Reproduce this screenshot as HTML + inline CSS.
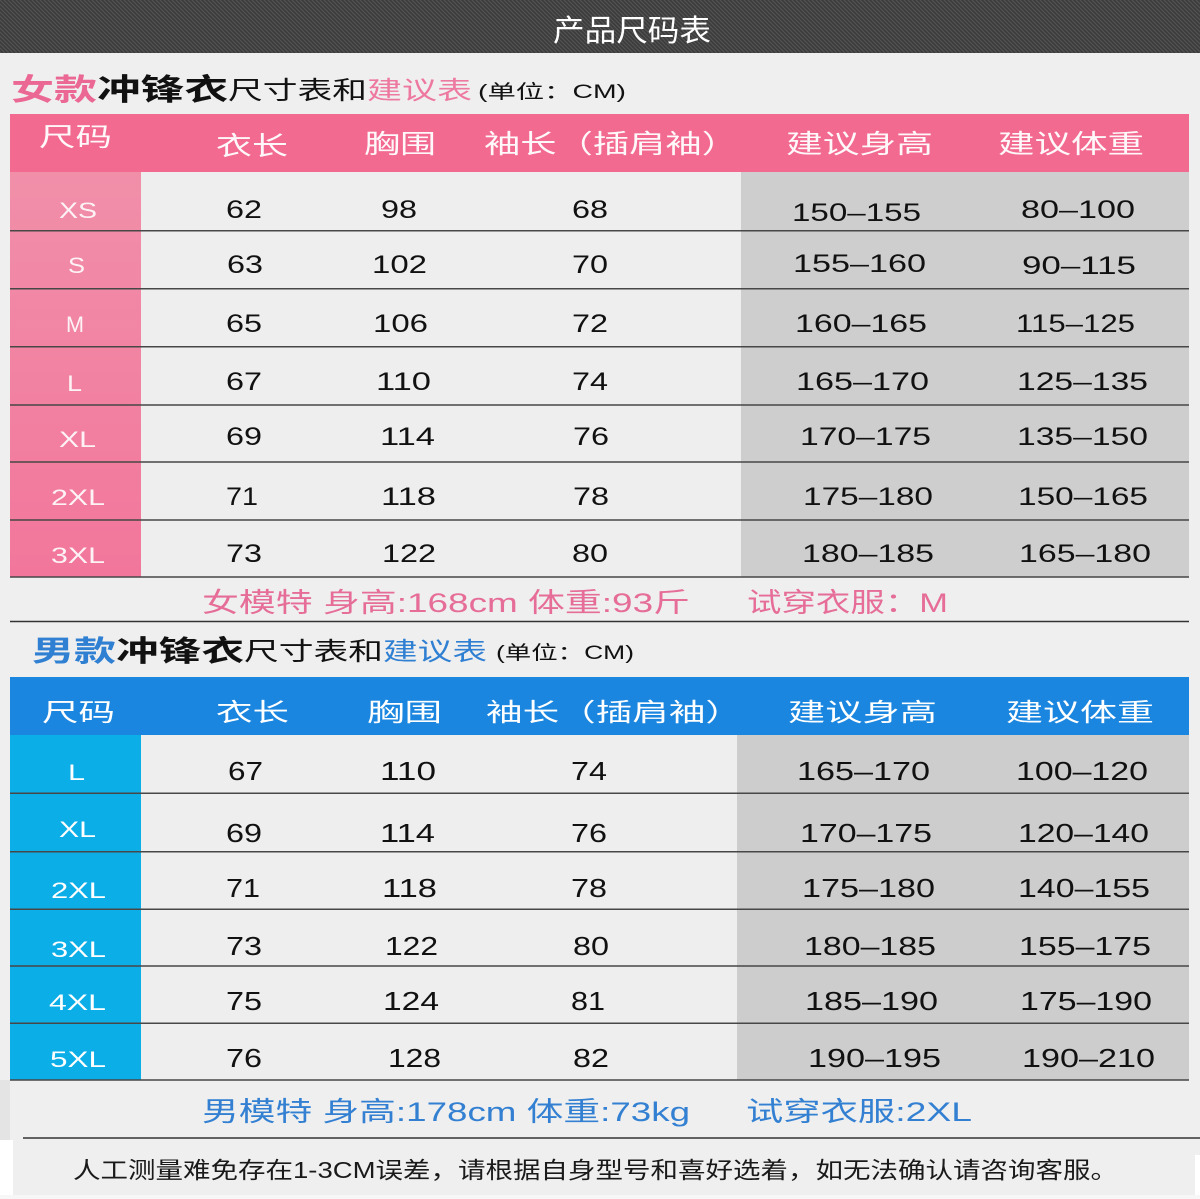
<!DOCTYPE html>
<html>
<head>
<meta charset="utf-8">
<style>
html,body{margin:0;padding:0;background:#efefef;}
svg{display:block;}
text{font-family:"Liberation Sans","Noto Sans CJK SC",sans-serif;}
</style>
</head>
<body>
<svg width="1200" height="1199" viewBox="0 0 1200 1199" xmlns="http://www.w3.org/2000/svg">
<defs>
<pattern id="stripe" width="4" height="4" patternUnits="userSpaceOnUse">
<rect width="4" height="4" fill="#3b3b3b"/>
<path d="M-1,-1 L5,5 M-1,3 L1,5 M3,-1 L5,1" stroke="#525252" stroke-width="1.2"/>
</pattern>
<linearGradient id="pinkcol" x1="0" y1="0" x2="0" y2="1">
<stop offset="0" stop-color="#f18fa9"/>
<stop offset="1" stop-color="#f2769b"/>
</linearGradient>
</defs>

<rect x="0" y="0" width="1200" height="1199" fill="#efefef"/>
<rect x="0" y="0" width="1200" height="53" fill="url(#stripe)"/>
<text x="553" y="41" font-size="30" fill="#ffffff" textLength="158" lengthAdjust="spacingAndGlyphs">产品尺码表</text>

<!-- Female title -->
<text x="11" y="100" font-size="30" font-weight="bold" fill="#ea6893" textLength="86" lengthAdjust="spacingAndGlyphs">女款</text>
<text x="97" y="100" font-size="30" font-weight="bold" fill="#111" textLength="131" lengthAdjust="spacingAndGlyphs">冲锋衣</text>
<text x="228" y="99" font-size="25" fill="#111" textLength="139" lengthAdjust="spacingAndGlyphs">尺寸表和</text>
<text x="367" y="99" font-size="25" fill="#ee79a0" textLength="105" lengthAdjust="spacingAndGlyphs">建议表</text>
<text x="478" y="98" font-size="19" fill="#111" textLength="148" lengthAdjust="spacingAndGlyphs">(单位：CM)</text>

<!-- Female table -->
<rect x="10" y="114" width="1179" height="58" fill="#f26a90"/>
<rect x="10" y="172" width="131" height="405" fill="url(#pinkcol)"/>
<rect x="141" y="172" width="600" height="405" fill="#eeeeee"/>
<rect x="741" y="172" width="448" height="405" fill="#cecece"/>
<g stroke="#474747" stroke-width="1.5">
<line x1="10" y1="230.7" x2="1189" y2="230.7"/>
<line x1="10" y1="288.7" x2="1189" y2="288.7"/>
<line x1="10" y1="346.7" x2="1189" y2="346.7"/>
<line x1="10" y1="405" x2="1189" y2="405"/>
<line x1="10" y1="462" x2="1189" y2="462"/>
<line x1="10" y1="520" x2="1189" y2="520"/>
<line x1="10" y1="577" x2="1189" y2="577"/>
</g>
<g font-size="26" fill="#fff8fa">
<text x="39" y="146" textLength="73" lengthAdjust="spacingAndGlyphs">尺码</text>
<text x="216" y="155" textLength="72" lengthAdjust="spacingAndGlyphs">衣长</text>
<text x="364" y="153" textLength="72" lengthAdjust="spacingAndGlyphs">胸围</text>
<text x="484" y="153" textLength="254" lengthAdjust="spacingAndGlyphs">袖长（插肩袖）</text>
<text x="786" y="153" textLength="147" lengthAdjust="spacingAndGlyphs">建议身高</text>
<text x="998" y="153" textLength="146" lengthAdjust="spacingAndGlyphs">建议体重</text>
</g>
<g font-size="22" fill="#fdf3f6">
<text x="59" y="218" textLength="38" lengthAdjust="spacingAndGlyphs">XS</text>
<text x="68" y="273" textLength="17" lengthAdjust="spacingAndGlyphs">S</text>
<text x="66" y="332" textLength="18" lengthAdjust="spacingAndGlyphs">M</text>
<text x="67" y="391" textLength="15" lengthAdjust="spacingAndGlyphs">L</text>
<text x="59" y="447" textLength="37" lengthAdjust="spacingAndGlyphs">XL</text>
<text x="51" y="505" textLength="54" lengthAdjust="spacingAndGlyphs">2XL</text>
<text x="51" y="563" textLength="54" lengthAdjust="spacingAndGlyphs">3XL</text>
</g>
<g font-size="25" fill="#111">
<text x="226" y="218" textLength="36" lengthAdjust="spacingAndGlyphs">62</text>
<text x="381" y="218" textLength="36" lengthAdjust="spacingAndGlyphs">98</text>
<text x="572" y="218" textLength="36" lengthAdjust="spacingAndGlyphs">68</text>
<text x="792" y="221" textLength="129" lengthAdjust="spacingAndGlyphs">150–155</text>
<text x="1021" y="218" textLength="114" lengthAdjust="spacingAndGlyphs">80–100</text>

<text x="227" y="273" textLength="36" lengthAdjust="spacingAndGlyphs">63</text>
<text x="372" y="273" textLength="55" lengthAdjust="spacingAndGlyphs">102</text>
<text x="572" y="273" textLength="36" lengthAdjust="spacingAndGlyphs">70</text>
<text x="793" y="272" textLength="133" lengthAdjust="spacingAndGlyphs">155–160</text>
<text x="1022" y="274" textLength="114" lengthAdjust="spacingAndGlyphs">90–115</text>

<text x="226" y="332" textLength="36" lengthAdjust="spacingAndGlyphs">65</text>
<text x="373" y="332" textLength="55" lengthAdjust="spacingAndGlyphs">106</text>
<text x="572" y="332" textLength="36" lengthAdjust="spacingAndGlyphs">72</text>
<text x="795" y="332" textLength="132" lengthAdjust="spacingAndGlyphs">160–165</text>
<text x="1016" y="332" textLength="119" lengthAdjust="spacingAndGlyphs">115–125</text>

<text x="226" y="390" textLength="36" lengthAdjust="spacingAndGlyphs">67</text>
<text x="376" y="390" textLength="55" lengthAdjust="spacingAndGlyphs">110</text>
<text x="572" y="390" textLength="36" lengthAdjust="spacingAndGlyphs">74</text>
<text x="796" y="390" textLength="133" lengthAdjust="spacingAndGlyphs">165–170</text>
<text x="1017" y="390" textLength="131" lengthAdjust="spacingAndGlyphs">125–135</text>

<text x="226" y="445" textLength="36" lengthAdjust="spacingAndGlyphs">69</text>
<text x="380" y="445" textLength="55" lengthAdjust="spacingAndGlyphs">114</text>
<text x="573" y="445" textLength="36" lengthAdjust="spacingAndGlyphs">76</text>
<text x="800" y="445" textLength="131" lengthAdjust="spacingAndGlyphs">170–175</text>
<text x="1017" y="445" textLength="131" lengthAdjust="spacingAndGlyphs">135–150</text>

<text x="226" y="505" textLength="32" lengthAdjust="spacingAndGlyphs">71</text>
<text x="381" y="505" textLength="55" lengthAdjust="spacingAndGlyphs">118</text>
<text x="573" y="505" textLength="36" lengthAdjust="spacingAndGlyphs">78</text>
<text x="803" y="505" textLength="130" lengthAdjust="spacingAndGlyphs">175–180</text>
<text x="1018" y="505" textLength="130" lengthAdjust="spacingAndGlyphs">150–165</text>

<text x="226" y="562" textLength="36" lengthAdjust="spacingAndGlyphs">73</text>
<text x="382" y="562" textLength="54" lengthAdjust="spacingAndGlyphs">122</text>
<text x="572" y="562" textLength="36" lengthAdjust="spacingAndGlyphs">80</text>
<text x="802" y="562" textLength="132" lengthAdjust="spacingAndGlyphs">180–185</text>
<text x="1019" y="562" textLength="132" lengthAdjust="spacingAndGlyphs">165–180</text>
</g>

<!-- Female model line -->
<text x="202" y="612" font-size="27" fill="#e66d98" textLength="488" lengthAdjust="spacingAndGlyphs">女模特 身高:168cm 体重:93斤</text>
<text x="747" y="612" font-size="27" fill="#e66d98" textLength="201" lengthAdjust="spacingAndGlyphs">试穿衣服：M</text>
<line x1="10" y1="621.5" x2="1189" y2="621.5" stroke="#333" stroke-width="1.5"/>

<!-- Male title -->
<text x="32" y="661" font-size="29" font-weight="bold" fill="#2f7fd2" textLength="84" lengthAdjust="spacingAndGlyphs">男款</text>
<text x="116" y="661" font-size="29" font-weight="bold" fill="#111" textLength="128" lengthAdjust="spacingAndGlyphs">冲锋衣</text>
<text x="244" y="660" font-size="25" fill="#111" textLength="139" lengthAdjust="spacingAndGlyphs">尺寸表和</text>
<text x="383" y="660" font-size="25" fill="#2f7fd2" textLength="104" lengthAdjust="spacingAndGlyphs">建议表</text>
<text x="496" y="659" font-size="19" fill="#111" textLength="138" lengthAdjust="spacingAndGlyphs">(单位：CM)</text>

<!-- Male table -->
<rect x="10" y="677" width="1179" height="58" fill="#1a86df"/>
<rect x="10" y="735" width="131" height="345" fill="#0caee8"/>
<rect x="141" y="735" width="596" height="345" fill="#eeeeee"/>
<rect x="737" y="735" width="452" height="345" fill="#cdcdcd"/>
<g stroke="#474747" stroke-width="1.5">
<line x1="10" y1="793.3" x2="1189" y2="793.3"/>
<line x1="10" y1="851.7" x2="1189" y2="851.7"/>
<line x1="10" y1="909.3" x2="1189" y2="909.3"/>
<line x1="10" y1="966" x2="1189" y2="966"/>
<line x1="10" y1="1023.3" x2="1189" y2="1023.3"/>
<line x1="10" y1="1080" x2="1189" y2="1080"/>
</g>
<g font-size="25" fill="#ffffff">
<text x="42" y="721" textLength="73" lengthAdjust="spacingAndGlyphs">尺码</text>
<text x="216" y="721" textLength="73" lengthAdjust="spacingAndGlyphs">衣长</text>
<text x="367" y="721" textLength="75" lengthAdjust="spacingAndGlyphs">胸围</text>
<text x="486" y="721" textLength="256" lengthAdjust="spacingAndGlyphs">袖长（插肩袖）</text>
<text x="788" y="721" textLength="149" lengthAdjust="spacingAndGlyphs">建议身高</text>
<text x="1006" y="721" textLength="148" lengthAdjust="spacingAndGlyphs">建议体重</text>
</g>
<g font-size="22" fill="#ffffff">
<text x="68" y="780" textLength="17" lengthAdjust="spacingAndGlyphs">L</text>
<text x="59" y="837" textLength="37" lengthAdjust="spacingAndGlyphs">XL</text>
<text x="51" y="898" textLength="55" lengthAdjust="spacingAndGlyphs">2XL</text>
<text x="51" y="957" textLength="55" lengthAdjust="spacingAndGlyphs">3XL</text>
<text x="49" y="1010" textLength="57" lengthAdjust="spacingAndGlyphs">4XL</text>
<text x="50" y="1067" textLength="56" lengthAdjust="spacingAndGlyphs">5XL</text>
</g>
<g font-size="26" fill="#111">
<text x="228" y="780" textLength="35" lengthAdjust="spacingAndGlyphs">67</text>
<text x="380" y="780" textLength="56" lengthAdjust="spacingAndGlyphs">110</text>
<text x="571" y="780" textLength="36" lengthAdjust="spacingAndGlyphs">74</text>
<text x="797" y="780" textLength="133" lengthAdjust="spacingAndGlyphs">165–170</text>
<text x="1016" y="780" textLength="132" lengthAdjust="spacingAndGlyphs">100–120</text>

<text x="226" y="842" textLength="36" lengthAdjust="spacingAndGlyphs">69</text>
<text x="380" y="842" textLength="55" lengthAdjust="spacingAndGlyphs">114</text>
<text x="571" y="842" textLength="36" lengthAdjust="spacingAndGlyphs">76</text>
<text x="800" y="842" textLength="132" lengthAdjust="spacingAndGlyphs">170–175</text>
<text x="1018" y="842" textLength="131" lengthAdjust="spacingAndGlyphs">120–140</text>

<text x="226" y="897" textLength="34" lengthAdjust="spacingAndGlyphs">71</text>
<text x="382" y="897" textLength="55" lengthAdjust="spacingAndGlyphs">118</text>
<text x="571" y="897" textLength="36" lengthAdjust="spacingAndGlyphs">78</text>
<text x="802" y="897" textLength="133" lengthAdjust="spacingAndGlyphs">175–180</text>
<text x="1018" y="897" textLength="132" lengthAdjust="spacingAndGlyphs">140–155</text>

<text x="226" y="955" textLength="36" lengthAdjust="spacingAndGlyphs">73</text>
<text x="385" y="955" textLength="53" lengthAdjust="spacingAndGlyphs">122</text>
<text x="573" y="955" textLength="36" lengthAdjust="spacingAndGlyphs">80</text>
<text x="804" y="955" textLength="132" lengthAdjust="spacingAndGlyphs">180–185</text>
<text x="1019" y="955" textLength="132" lengthAdjust="spacingAndGlyphs">155–175</text>

<text x="226" y="1010" textLength="36" lengthAdjust="spacingAndGlyphs">75</text>
<text x="383" y="1010" textLength="56" lengthAdjust="spacingAndGlyphs">124</text>
<text x="571" y="1010" textLength="34" lengthAdjust="spacingAndGlyphs">81</text>
<text x="805" y="1010" textLength="133" lengthAdjust="spacingAndGlyphs">185–190</text>
<text x="1020" y="1010" textLength="132" lengthAdjust="spacingAndGlyphs">175–190</text>

<text x="226" y="1067" textLength="36" lengthAdjust="spacingAndGlyphs">76</text>
<text x="388" y="1067" textLength="53" lengthAdjust="spacingAndGlyphs">128</text>
<text x="573" y="1067" textLength="36" lengthAdjust="spacingAndGlyphs">82</text>
<text x="808" y="1067" textLength="133" lengthAdjust="spacingAndGlyphs">190–195</text>
<text x="1022" y="1067" textLength="133" lengthAdjust="spacingAndGlyphs">190–210</text>
</g>

<!-- left edge shading -->
<rect x="0" y="1080" width="10" height="60" fill="#e4e4e4"/>
<rect x="0" y="1140" width="13" height="59" fill="#ffffff"/>
<rect x="1195" y="1155" width="5" height="44" fill="#ffffff"/>
<rect x="0" y="1195" width="1200" height="4" fill="#f7f7f7"/>

<!-- Male model line -->
<text x="202" y="1121" font-size="27" fill="#3380d2" textLength="488" lengthAdjust="spacingAndGlyphs">男模特 身高:178cm 体重:73kg</text>
<text x="746" y="1121" font-size="27" fill="#3380d2" textLength="226" lengthAdjust="spacingAndGlyphs">试穿衣服:2XL</text>
<line x1="23" y1="1138" x2="1200" y2="1138" stroke="#333" stroke-width="1.5"/>

<!-- Bottom note -->
<text x="73" y="1178" font-size="23" fill="#1a1a1a" textLength="1045" lengthAdjust="spacingAndGlyphs">人工测量难免存在1-3CM误差，请根据自身型号和喜好选着，如无法确认请咨询客服。</text>
</svg>
</body>
</html>
